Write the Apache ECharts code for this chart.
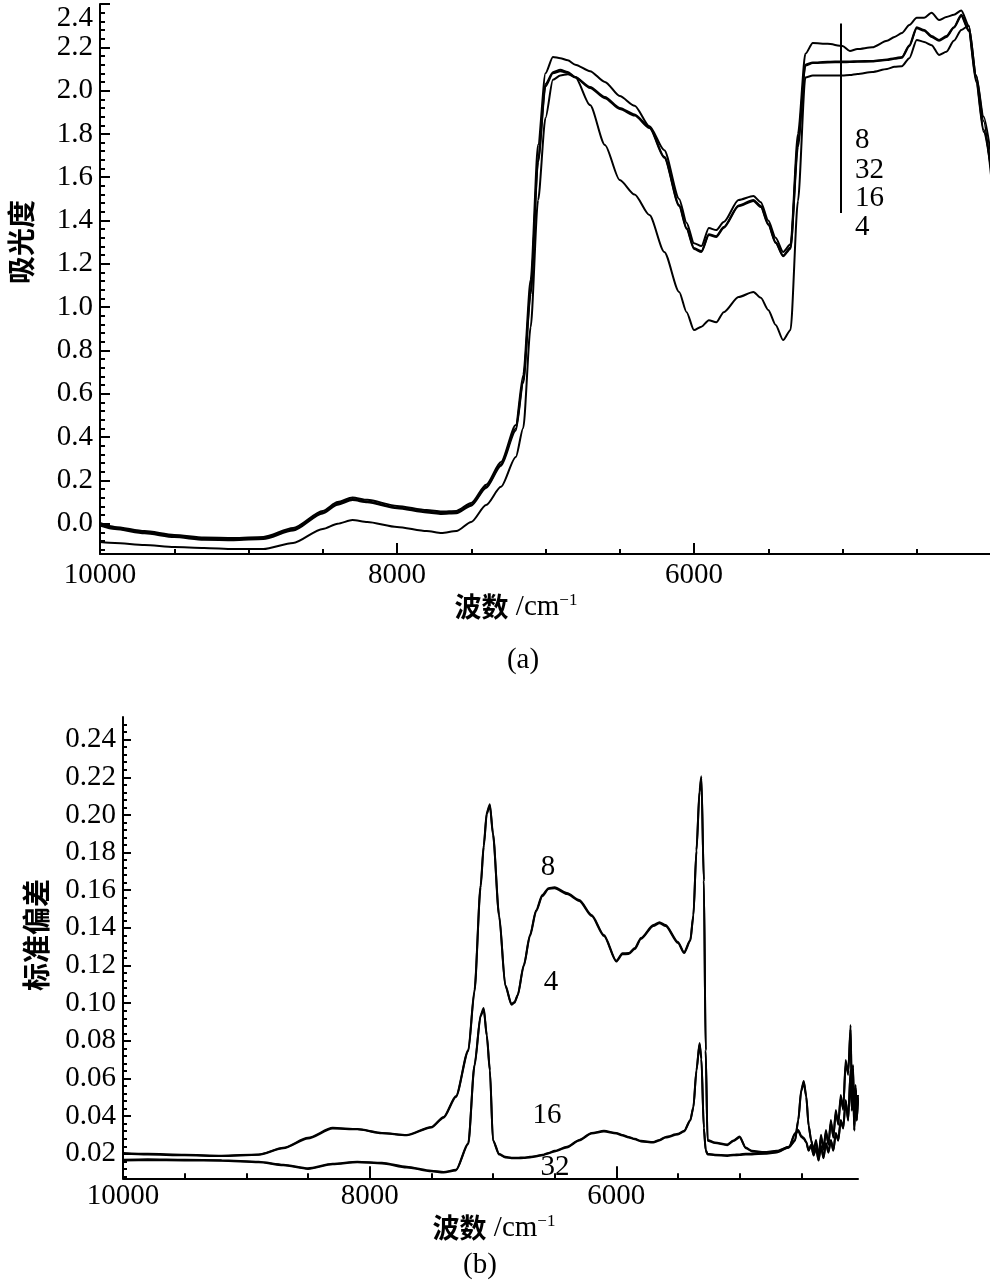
<!DOCTYPE html>
<html><head><meta charset="utf-8">
<script src="https://cdn.jsdelivr.net/npm/echarts@6.0.0/dist/echarts.min.js"></script>
<style>html,body{margin:0;padding:0;background:#fff}#c{width:990px;height:1285px}</style>
</head><body><div id="c"></div><script>
// ---------- (a) absorbance spectra ----------
const A_WN = [10000, 9900, 9700, 9500, 9300, 9100, 8900, 8700, 8500, 8400,
  8300, 8200, 8000, 7800, 7700, 7600, 7500, 7400, 7300, 7200,
  7150, 7100, 7050, 7000, 6950, 6900, 6850, 6800, 6700, 6600,
  6500, 6400, 6300, 6200, 6100, 6050, 6000, 5950, 5900, 5850,
  5800, 5700, 5600, 5550, 5500, 5450, 5400, 5350, 5300, 5250,
  5200, 5100, 5000, 4950, 4900, 4800, 4700, 4650, 4600, 4550,
  4500, 4450, 4400, 4350, 4300, 4250, 4200, 4150, 4100, 4050,
  4000];
const A_S8 = [0.003, -0.015, -0.034, -0.052, -0.064, -0.066, -0.061, -0.020, 0.059, 0.100,
  0.121, 0.110, 0.082, 0.063, 0.056, 0.059, 0.096, 0.180, 0.285, 0.456,
  0.686, 1.126, 1.75, 2.08, 2.155, 2.15, 2.14, 2.12, 2.09, 2.04,
  1.975, 1.93, 1.835, 1.725, 1.50, 1.39, 1.295, 1.282, 1.365, 1.356,
  1.393, 1.495, 1.513, 1.485, 1.40, 1.32, 1.255, 1.29, 1.80, 2.17,
  2.22, 2.216, 2.206, 2.183, 2.192, 2.20, 2.23, 2.248, 2.266, 2.303,
  2.336, 2.336, 2.36, 2.326, 2.34, 2.35, 2.37, 2.30, 2.07, 1.88,
  1.70];
const A_S32 = [-0.004, -0.021, -0.040, -0.058, -0.070, -0.072, -0.067, -0.027, 0.052, 0.093,
  0.114, 0.103, 0.075, 0.056, 0.049, 0.052, 0.088, 0.170, 0.275, 0.44,
  0.66, 1.07, 1.68, 2.03, 2.085, 2.096, 2.086, 2.063, 2.017, 1.97,
  1.92, 1.89, 1.832, 1.694, 1.472, 1.366, 1.273, 1.259, 1.337, 1.328,
  1.37, 1.47, 1.495, 1.467, 1.384, 1.30, 1.238, 1.275, 1.76, 2.12,
  2.13, 2.133, 2.135, 2.135, 2.136, 2.137, 2.144, 2.15, 2.155, 2.21,
  2.293, 2.28, 2.252, 2.234, 2.252, 2.293, 2.35, 2.28, 2.05, 1.82,
  1.65];
const A_S16 = [-0.009, -0.025, -0.044, -0.062, -0.074, -0.076, -0.071, -0.032, 0.047, 0.088,
  0.109, 0.099, 0.071, 0.052, 0.045, 0.048, 0.083, 0.165, 0.268, 0.43,
  0.65, 1.06, 1.67, 2.02, 2.08, 2.09, 2.082, 2.06, 2.012, 1.965,
  1.915, 1.885, 1.827, 1.69, 1.467, 1.361, 1.268, 1.255, 1.333, 1.324,
  1.366, 1.466, 1.49, 1.462, 1.38, 1.296, 1.235, 1.27, 1.74, 2.115,
  2.127, 2.13, 2.131, 2.132, 2.133, 2.134, 2.141, 2.147, 2.152, 2.205,
  2.288, 2.276, 2.248, 2.23, 2.248, 2.29, 2.345, 2.275, 2.04, 1.81,
  1.64];
const A_S4 = [-0.085, -0.089, -0.098, -0.108, -0.112, -0.117, -0.117, -0.089, -0.024, 0.000,
  0.017, 0.008, -0.015, -0.034, -0.043, -0.034, 0.008, 0.086, 0.170, 0.308,
  0.442, 0.907, 1.494, 1.874, 2.05, 2.07, 2.076, 2.063, 1.933, 1.749,
  1.587, 1.52, 1.425, 1.255, 1.07, 0.977, 0.894, 0.91, 0.94, 0.93,
  0.977, 1.047, 1.07, 1.043, 0.987, 0.918, 0.848, 0.895, 1.49, 2.06,
  2.07, 2.07, 2.07, 2.072, 2.077, 2.086, 2.10, 2.11, 2.113, 2.15,
  2.234, 2.225, 2.21, 2.165, 2.18, 2.23, 2.28, 2.30, 2.07, 1.86,
  1.61];
const A_MARK_WN = 5010, A_MARK_Y = [2.31, 1.435];
const A_X_TICKS = [10000, 8000, 6000];
const A_Y_TICKS = [0.0, 0.2, 0.4, 0.6, 0.8, 1.0, 1.2, 1.4, 1.6, 1.8, 2.0, 2.2, 2.4];
const A_LABELS = ['8', '32', '16', '4'];

// ---------- (b) standard deviation ----------
const B_WN = [10000, 9800, 9500, 9200, 8900, 8700, 8500, 8300, 8100, 7900,
  7700, 7500, 7400, 7300, 7200, 7150, 7100, 7075, 7050, 7025,
  7000, 6950, 6900, 6850, 6825, 6800, 6750, 6700, 6650, 6600,
  6550, 6500, 6400, 6300, 6200, 6100, 6000, 5950, 5900, 5850,
  5800, 5700, 5650, 5600, 5500, 5450, 5400, 5375, 5350, 5325,
  5310, 5290, 5275, 5260, 5200, 5100, 5050, 5000, 4950, 4900,
  4800, 4700, 4600, 4550, 4525, 4500, 4480, 4460, 4440, 4420,
  4400, 4380, 4360, 4340, 4320, 4300, 4280, 4260, 4240, 4220,
  4200, 4180, 4160, 4140, 4120, 4100, 4090, 4080, 4070, 4060,
  4050, 4040];
const B_S8 = [0.0205, 0.0200, 0.0195, 0.0190, 0.0197, 0.0232, 0.0285, 0.0338, 0.0332, 0.0311,
  0.0300, 0.0343, 0.0396, 0.0507, 0.0752, 0.1070, 0.1627, 0.1840, 0.2014, 0.2057,
  0.1903, 0.1468, 0.1097, 0.0996, 0.1006, 0.1044, 0.1203, 0.1362, 0.1494, 0.1574,
  0.1611, 0.1616, 0.1585, 0.1548, 0.1468, 0.1362, 0.1225, 0.1265, 0.1266, 0.1293,
  0.1346, 0.1415, 0.1430, 0.1415, 0.1325, 0.1271, 0.1335, 0.1468, 0.1813, 0.2131,
  0.2205, 0.1654, 0.0752, 0.0274, 0.0260, 0.0249, 0.0271, 0.0292, 0.0233, 0.0216,
  0.0210, 0.0216, 0.0237, 0.0274, 0.0380, 0.0540, 0.0587, 0.0510, 0.0350, 0.0274,
  0.0220, 0.0274, 0.0179, 0.0301, 0.0221, 0.0327, 0.0248, 0.0380, 0.0285, 0.0433,
  0.0354, 0.0513, 0.0433, 0.0698, 0.0619, 0.0884, 0.0486, 0.0672, 0.0354, 0.0566,
  0.0433, 0.0513];
const B_S4 = [0.0200, 0.0196, 0.0192, 0.0188, 0.0195, 0.0229, 0.0281, 0.0334, 0.0330, 0.0309,
  0.0298, 0.0340, 0.0392, 0.0502, 0.0745, 0.1060, 0.1615, 0.1830, 0.2005, 0.2050,
  0.1895, 0.1460, 0.1092, 0.0992, 0.1002, 0.1040, 0.1198, 0.1356, 0.1488, 0.1568,
  0.1606, 0.1611, 0.1580, 0.1543, 0.1463, 0.1357, 0.1221, 0.1260, 0.1261, 0.1288,
  0.1341, 0.1410, 0.1425, 0.1410, 0.1320, 0.1266, 0.1330, 0.1462, 0.1805, 0.2122,
  0.2195, 0.1645, 0.0745, 0.0270, 0.0257, 0.0246, 0.0268, 0.0288, 0.0230, 0.0213,
  0.0207, 0.0213, 0.0234, 0.0270, 0.0375, 0.0533, 0.0580, 0.0503, 0.0346, 0.0270,
  0.0218, 0.0262, 0.0185, 0.0290, 0.0230, 0.0315, 0.0255, 0.0365, 0.0295, 0.0415,
  0.0365, 0.0495, 0.0445, 0.0675, 0.0635, 0.0860, 0.0500, 0.0655, 0.0370, 0.0550,
  0.0445, 0.0500];
const B_S16 = [0.0168, 0.0171, 0.0168, 0.0166, 0.0158, 0.0142, 0.0123, 0.0147, 0.0158, 0.0152,
  0.0131, 0.0110, 0.0104, 0.0115, 0.0258, 0.0672, 0.0937, 0.0974, 0.0831, 0.0646,
  0.0274, 0.0200, 0.0184, 0.0179, 0.0179, 0.0179, 0.0181, 0.0184, 0.0189, 0.0195,
  0.0205, 0.0216, 0.0237, 0.0274, 0.0311, 0.0322, 0.0311, 0.0300, 0.0290, 0.0280,
  0.0269, 0.0263, 0.0274, 0.0290, 0.0306, 0.0322, 0.0380, 0.0449, 0.0645, 0.0789,
  0.0709, 0.0338, 0.0221, 0.0200, 0.0195, 0.0192, 0.0195, 0.0197, 0.0200, 0.0200,
  0.0203, 0.0210, 0.0237, 0.0310, 0.0327, 0.0295, 0.0285, 0.0264, 0.0220, 0.0248,
  0.0195, 0.0232, 0.0168, 0.0243, 0.0180, 0.0258, 0.0210, 0.0274, 0.0220, 0.0311,
  0.0274, 0.0380, 0.0338, 0.0486, 0.0380, 0.0645, 0.0433, 0.0590, 0.0327, 0.0540,
  0.0380, 0.0490];
const B_S32 = [0.0164, 0.0167, 0.0165, 0.0163, 0.0155, 0.0139, 0.0120, 0.0144, 0.0155, 0.0149,
  0.0128, 0.0107, 0.0101, 0.0112, 0.0252, 0.0665, 0.0930, 0.0968, 0.0825, 0.0640,
  0.0270, 0.0196, 0.0181, 0.0176, 0.0176, 0.0176, 0.0178, 0.0181, 0.0186, 0.0192,
  0.0202, 0.0213, 0.0234, 0.0271, 0.0308, 0.0319, 0.0308, 0.0297, 0.0287, 0.0277,
  0.0266, 0.0260, 0.0271, 0.0287, 0.0303, 0.0319, 0.0376, 0.0445, 0.0640, 0.0782,
  0.0703, 0.0334, 0.0218, 0.0197, 0.0192, 0.0189, 0.0192, 0.0194, 0.0197, 0.0197,
  0.0200, 0.0207, 0.0234, 0.0305, 0.0322, 0.0290, 0.0280, 0.0260, 0.0216, 0.0244,
  0.0191, 0.0228, 0.0164, 0.0239, 0.0176, 0.0254, 0.0206, 0.0270, 0.0216, 0.0307,
  0.0270, 0.0376, 0.0334, 0.0482, 0.0376, 0.0640, 0.0429, 0.0585, 0.0323, 0.0535,
  0.0376, 0.0486];
const B_X_TICKS = [10000, 8000, 6000];
const B_Y_TICKS = [0.02, 0.04, 0.06, 0.08, 0.10, 0.12, 0.14, 0.16, 0.18, 0.20, 0.22, 0.24];
const B_LABELS = ['8', '4', '16', '32'];

const X_MINOR = [9500, 9000, 8500, 7500, 7000, 6500, 5500, 5000, 4500];
function stepList(lo, hi, step) {
  const out = [];
  for (let k = Math.round(lo / step); k * step <= hi + 1e-9; k++) out.push(+(k * step).toFixed(4));
  return out;
}
// short ticks at every minor step; the labelled values get longer ticks from an overlay axis
const A_Y_ALL = stepList(-0.12, 2.4, 0.04);
const B_Y_ALL = stepList(0.008, 0.248, 0.004);

const SERIF = '"Liberation Serif", "DejaVu Serif", serif';
const CJK = '"Noto Sans CJK SC", sans-serif';
const K = '#000';

const A_X = {min: 4000, max: 10000}, A_Y = {min: -0.14, max: 2.4};
const B_X = {min: 4040, max: 10000}, B_Y = {min: 0.007, max: 0.252};

function xMajor(grid, r, ticks, tickLen, margin) {
  return {gridIndex: grid, type: 'value', min: r.min, max: r.max, inverse: true, position: 'bottom',
    axisLine: {show: true, onZero: false, lineStyle: {color: K, width: 2}},
    axisTick: {show: true, inside: true, length: tickLen, customValues: ticks, lineStyle: {color: K, width: 2}},
    axisLabel: {show: true, customValues: ticks, color: K, fontFamily: SERIF, fontSize: 29, margin: margin, formatter: v => String(v)},
    splitLine: {show: false}};
}
function xMinor(grid, r) {
  return {gridIndex: grid, type: 'value', min: r.min, max: r.max, inverse: true, position: 'bottom', offset: 0,
    axisLine: {show: false, onZero: false},
    axisTick: {show: true, inside: true, length: 5, customValues: X_MINOR, lineStyle: {color: K, width: 2}},
    axisLabel: {show: false}, splitLine: {show: false}};
}
function yMain(grid, r, all, labels, shortLen, dec, extra) {
  return {gridIndex: grid, type: 'value', min: r.min, max: r.max, position: 'left',
    axisLine: {show: true, onZero: false, lineStyle: {color: K, width: 2}},
    axisTick: {show: true, inside: true, length: shortLen, customValues: all, lineStyle: {color: K, width: 2}},
    axisLabel: Object.assign({show: true, customValues: labels, color: K, fontFamily: SERIF, fontSize: 29, margin: 7,
      formatter: v => (+v).toFixed(dec)}, extra || {}),
    splitLine: {show: false}};
}
function yLong(grid, r, labels, len) {
  return {gridIndex: grid, type: 'value', min: r.min, max: r.max, position: 'left', offset: 0,
    axisLine: {show: false, onZero: false},
    axisTick: {show: true, inside: true, length: len, customValues: labels, lineStyle: {color: K, width: 2}},
    axisLabel: {show: false}, splitLine: {show: false}};
}
function line(name, xi, yi, wn, vals, extra) {
  return Object.assign({name: name, type: 'line', xAxisIndex: xi, yAxisIndex: yi,
    data: wn.map((w, i) => [w, vals[i]]), showSymbol: false, symbol: 'none', silent: true,
    smooth: 0.25, smoothMonotone: 'x',
    lineStyle: {color: K, width: 2}, animation: false}, extra || {});
}
function txt(x, y, text, size, family, align, rot, weight) {
  return {type: 'text', x: x, y: y, rotation: rot || 0, silent: true,
    style: {text: text, fontSize: size, fontFamily: family, fontWeight: weight || 'normal', fill: K,
      align: align || 'center', verticalAlign: 'middle'}};
}
function xName(x, y) {
  return {type: 'text', x: x, y: y, silent: true,
    style: {text: '{cn|波数}{lat| /cm}{sup|−1}', fill: K, align: 'center', verticalAlign: 'middle',
      rich: {cn: {fontFamily: CJK, fontSize: 27, fontWeight: 'bold', fill: K},
        lat: {fontFamily: SERIF, fontSize: 29, fill: K},
        sup: {fontFamily: SERIF, fontSize: 17, fill: K, verticalAlign: 'top'}}}};
}

const option = {
  backgroundColor: '#fff',
  animation: false,
  textStyle: {fontFamily: SERIF},
  grid: [
    {left: 100, top: 4, width: 891, height: 550, outerBoundsMode: 'none', containLabel: false},
    {left: 123, top: 717, width: 735, height: 461.3, outerBoundsMode: 'none', containLabel: false}
  ],
  xAxis: [xMajor(0, A_X, A_X_TICKS, 11, 7), xMinor(0, A_X), xMajor(1, B_X, B_X_TICKS, 12, 4), xMinor(1, B_X)],
  yAxis: [
    yMain(0, A_Y, A_Y_ALL, A_Y_TICKS, 5, 1, {verticalAlignMaxLabel: 'top'}),
    yLong(0, A_Y, A_Y_TICKS, 10),
    yMain(1, B_Y, B_Y_ALL, B_Y_TICKS, 4, 2),
    yLong(1, B_Y, B_Y_TICKS, 8)
  ],
  series: [
    line('8', 0, 0, A_WN, A_S8, {markLine: {silent: true, symbol: 'none', animation: false,
      label: {show: false}, lineStyle: {color: K, width: 2, type: 'solid'},
      data: [[{coord: [A_MARK_WN, A_MARK_Y[0]]}, {coord: [A_MARK_WN, A_MARK_Y[1]]}]]}}),
    line('32', 0, 0, A_WN, A_S32),
    line('16', 0, 0, A_WN, A_S16),
    line('4', 0, 0, A_WN, A_S4),
    line('8', 2, 2, B_WN, B_S8),
    line('4', 2, 2, B_WN, B_S4),
    line('16', 2, 2, B_WN, B_S16),
    line('32', 2, 2, B_WN, B_S32)
  ],
  graphic: [
    txt(21, 242, '吸光度', 28, CJK, 'center', Math.PI / 2, 'bold'),
    xName(516, 607),
    txt(523, 660, '(a)', 29, SERIF),
    txt(855, 140, A_LABELS[0], 29, SERIF, 'left'),
    txt(855, 170, A_LABELS[1], 29, SERIF, 'left'),
    txt(855, 198, A_LABELS[2], 29, SERIF, 'left'),
    txt(855, 227, A_LABELS[3], 29, SERIF, 'left'),
    txt(36, 935, '标准偏差', 28, CJK, 'center', Math.PI / 2, 'bold'),
    xName(494, 1228),
    txt(480, 1265, '(b)', 29, SERIF),
    txt(548, 867, B_LABELS[0], 29, SERIF),
    txt(551, 982, B_LABELS[1], 29, SERIF),
    txt(547, 1115, B_LABELS[2], 29, SERIF),
    txt(555, 1167, B_LABELS[3], 29, SERIF)
  ]
};
const chart = echarts.init(document.getElementById('c'), null, {renderer: 'canvas'});
chart.setOption(option);
</script></body></html>
